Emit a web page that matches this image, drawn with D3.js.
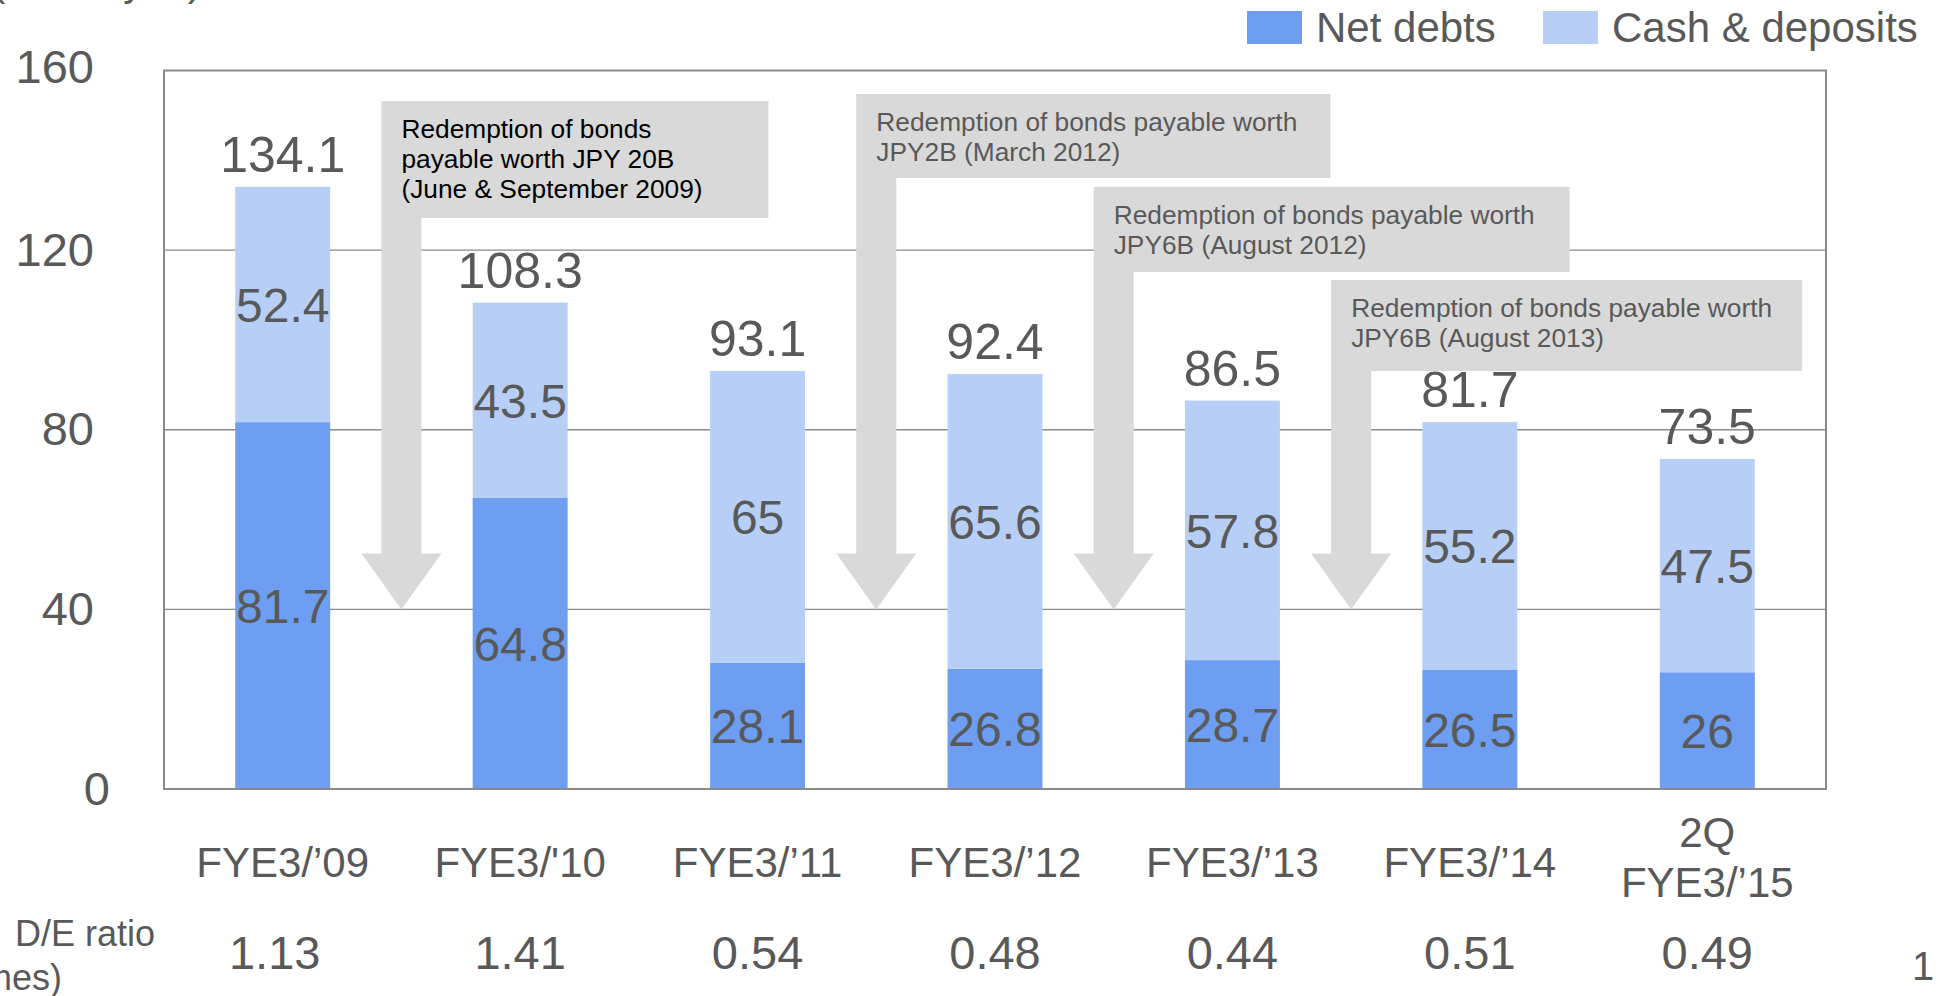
<!DOCTYPE html>
<html>
<head>
<meta charset="utf-8">
<script src="https://cdn.jsdelivr.net/npm/d3@7"></script>
<style>
  body { margin: 0; background: #fff; }
  svg { display: block; font-family: "Liberation Sans", Arial, sans-serif; }
</style>
</head>
<body>
<svg width="1939" height="996"></svg>
<script>
const categories = ["FYE3/’09", "FYE3/'10", "FYE3/’11", "FYE3/’12", "FYE3/’13", "FYE3/’14", "2Q\nFYE3/’15"];
const netDebts = [81.7, 64.8, 28.1, 26.8, 28.7, 26.5, 26];
const cashDeposits = [52.4, 43.5, 65, 65.6, 57.8, 55.2, 47.5];
const totals = [134.1, 108.3, 93.1, 92.4, 86.5, 81.7, 73.5];
const deRatios = ["1.13", "1.41", "0.54", "0.48", "0.44", "0.51", "0.49"];
const yTicks = [0, 40, 80, 120, 160];
const gridTicks = [40, 80, 120];
const seriesNames = ["Net debts", "Cash & deposits"];

// callout text, and the gap (after bar i) the arrow points into
const calloutText = [
  ["Redemption of bonds", "payable worth JPY 20B", "(June & September 2009)"],
  ["Redemption of bonds payable worth", "JPY2B (March 2012)"],
  ["Redemption of bonds payable worth", "JPY6B (August 2012)"],
  ["Redemption of bonds payable worth", "JPY6B (August 2013)"]
];
const calloutGap = [0, 2, 3, 4];
const calloutArrowTo = 40;

// box layout (pixels)
const boxTop = [101, 94, 187, 280];
const boxWidth = [387, 474, 476, 471];
const boxHeight = [117, 84, 85, 91];
const boxTextColor = ["#000", "#595959", "#595959", "#595959"];

const colors = { net: "#6d9ef1", cash: "#b7cff7", text: "#595959", grid: "#8a8a8a", callout: "#d9d9d9" };

const svg = d3.select("svg");
const plot = { left: 164, right: 1826, top: 70.5, bottom: 789 };

const x = d3.scaleBand()
  .domain(categories)
  .range([plot.left, plot.right])
  .paddingInner(0.6)
  .paddingOuter(0.3);
const y = d3.scaleLinear().domain([0, 160]).range([plot.bottom, plot.top]);
const cx = (c) => x(c) + x.bandwidth() / 2;

// gridlines
svg.append("g")
  .selectAll("line")
  .data(gridTicks)
  .enter()
  .append("line")
  .attr("x1", plot.left)
  .attr("x2", plot.right)
  .attr("y1", (d) => y(d))
  .attr("y2", (d) => y(d))
  .attr("stroke", colors.grid)
  .attr("stroke-width", 1.3);

// y axis labels
const yAxis = svg.append("g")
  .attr("transform", `translate(${plot.left},0)`)
  .call(d3.axisLeft(y).tickValues(yTicks).tickSize(0).tickPadding(70));
yAxis.select(".domain").remove();
yAxis.selectAll("text")
  .attr("font-size", 47)
  .attr("font-family", "Liberation Sans, Arial, sans-serif")
  .attr("fill", colors.text)
  .attr("dx", (d) => (d === 0 ? 16 : 0))
  .attr("dy", (d) => (d === 160 ? "0.25em" : "0.32em"));

// stacked bars
const stack = categories.map((c, i) => ({ cat: c, net: netDebts[i], cash: cashDeposits[i], total: totals[i] }));
const bars = svg.append("g");
bars.selectAll(".net")
  .data(stack)
  .enter()
  .append("rect")
  .attr("x", (d) => x(d.cat))
  .attr("width", x.bandwidth())
  .attr("y", (d) => y(d.net))
  .attr("height", (d) => y(0) - y(d.net))
  .attr("fill", colors.net);
bars.selectAll(".cash")
  .data(stack)
  .enter()
  .append("rect")
  .attr("x", (d) => x(d.cat))
  .attr("width", x.bandwidth())
  .attr("y", (d) => y(d.net + d.cash))
  .attr("height", (d) => y(d.net) - y(d.net + d.cash))
  .attr("fill", colors.cash);

// plot frame
svg.append("rect")
  .attr("x", plot.left)
  .attr("y", plot.top)
  .attr("width", plot.right - plot.left)
  .attr("height", plot.bottom - plot.top)
  .attr("fill", "none")
  .attr("stroke", colors.grid)
  .attr("stroke-width", 2);

// callouts: box + arrow
const step = x.step();
const hw = 20, headHw = 40, headLen = 56;
const callouts = calloutText.map((lines, i) => {
  const mid = x(categories[calloutGap[i]]) + x.bandwidth() + (step - x.bandwidth()) / 2;
  return { lines, mid, top: boxTop[i], w: boxWidth[i], h: boxHeight[i], color: boxTextColor[i] };
});
const cg = svg.append("g");
cg.selectAll("path")
  .data(callouts)
  .enter()
  .append("path")
  .attr("fill", colors.callout)
  .attr("d", (d) => {
    const L = d.mid - hw, R = L + d.w, B = d.top + d.h;
    const tip = y(calloutArrowTo), ht = tip - headLen;
    return `M${L},${d.top}H${R}V${B}H${d.mid + hw}V${ht}H${d.mid + headHw}L${d.mid},${tip}L${d.mid - headHw},${ht}H${L}Z`;
  });
cg.selectAll("text")
  .data(callouts)
  .enter()
  .append("text")
  .attr("font-size", 26.3)
  .attr("fill", (d) => d.color)
  .each(function (d) {
    d3.select(this)
      .selectAll("tspan")
      .data(d.lines)
      .enter()
      .append("tspan")
      .attr("x", d.mid - hw + 20)
      .attr("y", (t, j) => d.top + 37 + j * 30)
      .text((t) => t);
  });

// value labels
const labels = svg.append("g")
  .attr("fill", colors.text)
  .attr("text-anchor", "middle");
labels.selectAll(".tot")
  .data(stack)
  .enter()
  .append("text")
  .attr("font-size", 50)
  .attr("x", (d) => cx(d.cat))
  .attr("y", (d) => y(d.total) - 15)
  .text((d) => d.total);
labels.selectAll(".n")
  .data(stack)
  .enter()
  .append("text")
  .attr("font-size", 48)
  .attr("x", (d) => cx(d.cat))
  .attr("y", (d) => y(d.net / 2))
  .attr("dy", "0.36em")
  .text((d) => d.net);
labels.selectAll(".c")
  .data(stack)
  .enter()
  .append("text")
  .attr("font-size", 48)
  .attr("x", (d) => cx(d.cat))
  .attr("y", (d) => y(d.net + d.cash / 2))
  .attr("dy", "0.36em")
  .text((d) => d.cash);

// category labels
const catG = svg.append("g")
  .attr("font-size", 42)
  .attr("fill", colors.text)
  .attr("text-anchor", "middle");
catG.selectAll("text")
  .data(categories)
  .enter()
  .append("text")
  .each(function (c) {
    const lines = c.split("\n");
    const first = 877 - (lines.length - 1) * 30;
    d3.select(this)
      .selectAll("tspan")
      .data(lines)
      .enter()
      .append("tspan")
      .attr("x", cx(c))
      .attr("y", (t, j) => first + j * 50)
      .text((t) => t);
  });

// D/E ratio row
svg.append("g")
  .attr("font-size", 47)
  .attr("fill", colors.text)
  .attr("text-anchor", "middle")
  .selectAll("text")
  .data(deRatios)
  .enter()
  .append("text")
  .attr("x", (d, i) => cx(categories[i]) - (i === 0 ? 8 : 0))
  .attr("y", 969)
  .text((d) => d);

svg.append("text")
  .attr("x", 155)
  .attr("y", 946)
  .attr("text-anchor", "end")
  .attr("font-size", 36)
  .attr("fill", colors.text)
  .text("D/E ratio");
svg.append("text")
  .attr("x", 62)
  .attr("y", 990)
  .attr("text-anchor", "end")
  .attr("font-size", 36)
  .attr("fill", colors.text)
  .text("(times)");

// unit label, cut off at the top
svg.append("text")
  .attr("x", -8)
  .attr("y", -4)
  .attr("font-size", 40)
  .attr("fill", colors.text)
  .text("(Billion yen)");

// page number, cut off at the right
svg.append("text")
  .attr("x", 1912)
  .attr("y", 980)
  .attr("font-size", 40)
  .attr("fill", colors.text)
  .text("1");

// legend
const legend = svg.append("g").attr("font-size", 42).attr("fill", colors.text);
const legendX = [1247, 1543];
const legendColors = [colors.net, colors.cash];
seriesNames.forEach((name, i) => {
  legend.append("rect")
    .attr("x", legendX[i])
    .attr("y", 11)
    .attr("width", 55)
    .attr("height", 33)
    .attr("fill", legendColors[i]);
  legend.append("text")
    .attr("x", legendX[i] + 69)
    .attr("y", 42)
    .text(name);
});
</script>
</body>
</html>
